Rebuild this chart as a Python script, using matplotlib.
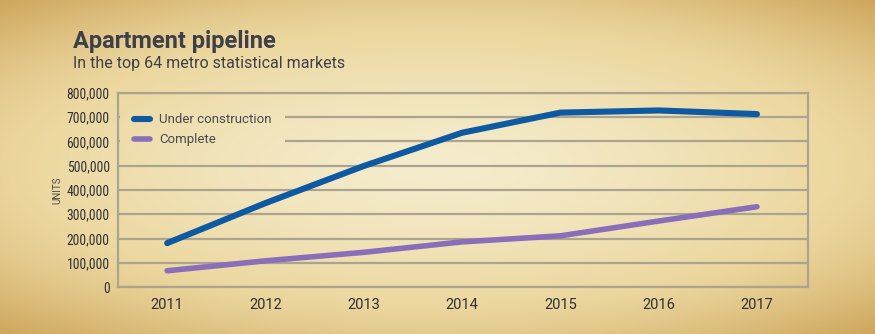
import matplotlib.pyplot as plt
import numpy as np
from matplotlib import font_manager
from matplotlib.ticker import FuncFormatter

# apartment pipeline, top 64 metro statistical markets
years = [2011, 2012, 2013, 2014, 2015, 2016, 2017]
under_construction = [181000, 346000, 499000, 636000, 719000, 728000, 713000]
complete = [67000, 108000, 143000, 186000, 211000, 272000, 331000]

text_color = '#3e4049'
grid_color = '#aca391'


def pick_font(names):
    for n in names:
        try:
            font_manager.findfont(n, fallback_to_default=False)
            return n
        except ValueError:
            pass
    return 'DejaVu Sans'


narrow = pick_font(['Roboto Condensed', 'Liberation Sans Narrow', 'Roboto'])
plain = pick_font(['Roboto', 'Liberation Sans', 'DejaVu Sans'])

W, H = 875, 334
fig = plt.figure(figsize=(W / 100, H / 100), dpi=100)

# parchment backdrop: pale centre fading to darker tan edges
bg = fig.add_axes([0, 0, 1, 1])
yy, xx = np.mgrid[-1:1:H * 1j, -1:1:W * 1j]
r = np.sqrt((xx * 0.92) ** 2 + (yy * 1.05) ** 2) / 1.4
r = np.clip(r, 0, 1)
centre = np.array([245, 236, 204]) / 255
mid = np.array([236, 216, 160]) / 255
edge = np.array([206, 166, 92]) / 255
t = r[..., None]
img = np.where(t < 0.6,
               centre + (mid - centre) * (t / 0.6) ** 1.5,
               mid + (edge - mid) * ((t - 0.6) / 0.4) ** 1.3)
bg.imshow(img, aspect='auto', extent=[0, 1, 0, 1])
bg.axis('off')

ax = fig.add_axes([0.1349, 0.1407, 0.7886, 0.5809])
ax.patch.set_alpha(0)

ax.plot(years, under_construction, color='#0d5aa3', lw=4.4,
        solid_capstyle='round', solid_joinstyle='round',
        label='Under construction', zorder=3)
ax.plot(years, complete, color='#8a6eb9', lw=4.0,
        solid_capstyle='round', solid_joinstyle='round',
        label='Complete', zorder=3)

ax.set_xlim(2010.5, 2017.52)
ax.set_ylim(0, 800000)
ax.set_xticks(years)
ax.set_yticks(np.arange(0, 800001, 100000))
ax.yaxis.set_major_formatter(FuncFormatter(lambda v, p: f'{int(v):,}'))
ax.grid(axis='y', color=grid_color, lw=1.6, zorder=1)
ax.tick_params(length=0, colors='#2f3036', labelsize=9.8, pad=6)
ax.tick_params(axis='x', labelsize=10.5, pad=8)
for lbl in ax.get_yticklabels():
    lbl.set_family(narrow)
for lbl in ax.get_xticklabels():
    lbl.set_family(plain)
for s in ax.spines.values():
    s.set_color(grid_color)
    s.set_linewidth(1.6)

ax.set_ylabel('UNITS', fontsize=7, color='#4a4a4f', family=plain)
ax.yaxis.set_label_coords(-0.08, 0.5)

# backdrop patch behind the legend hides the grid lines there
px0, px1, py0, py1 = 120, 285, 103, 151
panel = fig.add_axes([px0 / W, 1 - py1 / H, (px1 - px0) / W, (py1 - py0) / H],
                     zorder=1)
panel.imshow(img[py0:py1, px0:px1], aspect='auto')
panel.axis('off')

handles, labels = ax.get_legend_handles_labels()
leg = fig.legend(handles, labels, loc='upper left',
                 bbox_to_anchor=(125 / W, 1 - 104 / H),
                 frameon=False, handlelength=1.2, handletextpad=0.7,
                 labelspacing=0.55, borderpad=0.2,
                 prop={'family': plain, 'size': 9.5})
for t in leg.get_texts():
    t.set_color('#4a4a50')

fig.text(0.083, 0.857, 'Apartment pipeline', fontsize=17, fontweight='bold',
         color=text_color, family=plain)
fig.text(0.083, 0.795, 'In the top 64 metro statistical markets', fontsize=11.5,
         color=text_color, family=plain)

plt.savefig('out.png', dpi=100)
